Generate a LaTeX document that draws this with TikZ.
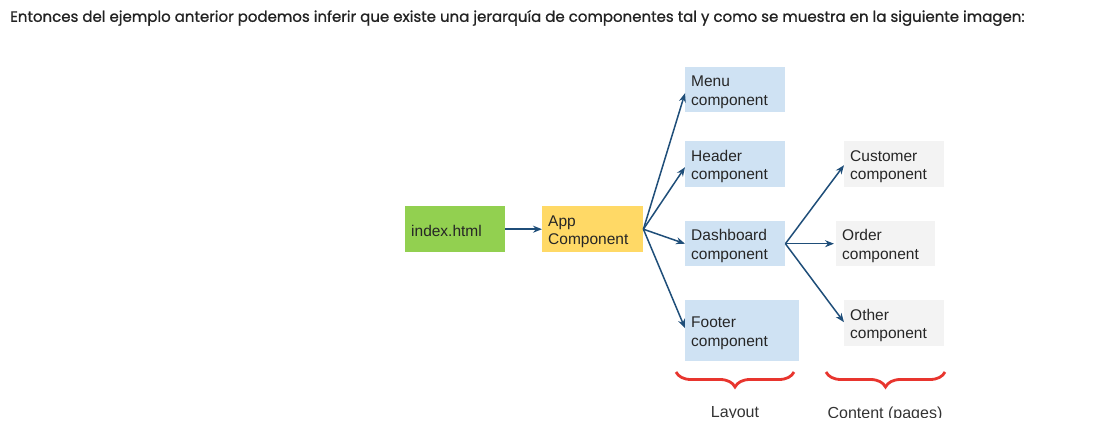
\documentclass[tikz,border=0pt]{standalone}
\usepackage{fontspec}
\setmainfont{Liberation Sans}
\newfontfamily\titlefont{Poppins}[FakeBold=0.9]
\usetikzlibrary{decorations.pathreplacing,arrows.meta}
\definecolor{gbox}{HTML}{92D050}
\definecolor{ybox}{HTML}{FFD966}
\definecolor{bbox}{HTML}{CFE2F3}
\definecolor{pbox}{HTML}{F3F3F3}
\definecolor{arrc}{HTML}{1F4E79}
\definecolor{bracec}{HTML}{E8352E}
\definecolor{titlec}{HTML}{222222}
\begin{document}
\begin{tikzpicture}[x=1pt,y=-1pt,
  box/.style={anchor=north west, inner xsep=6pt, inner ysep=0pt, align=left,
    font=\fontsize{15.5}{18.5}\selectfont, text=black!85,
    execute at begin node={\rule{0pt}{15.5pt}}},
  arr/.style={draw=arrc, line width=1.5pt, -{Stealth[length=9pt,width=7pt]}},
  brc/.style={draw=bracec, line width=2.8pt, decorate,
    decoration={brace, amplitude=15pt, aspect=0.5}},
  lbl/.style={font=\fontsize{16}{19}\selectfont, text=black!80}
]
\useasboundingbox (0,0) rectangle (1117,437);
\node[anchor=west, inner sep=0pt, font=\titlefont\fontsize{15}{17}\selectfont, text=titlec] (title) at (10,18)
  {Entonces del ejemplo anterior podemos inferir que existe una jerarquía de componentes tal y como se muestra en la siguiente imagen:};

\node[box, fill=gbox, text width=88pt, minimum height=46pt] (index) at (405,206) {index.html};
\node[box, fill=ybox, text width=89pt, minimum height=46pt] (app) at (542,206) {App\\Component};
\node[box, fill=bbox, text width=88pt, minimum height=45pt] (menu) at (685,67) {Menu\\component};
\node[box, fill=bbox, text width=88pt, minimum height=46pt] (header) at (685,141) {Header\\component};
\node[box, fill=bbox, text width=88pt, minimum height=45pt] (dash) at (685,221) {Dashboard\\component};
\node[box, fill=bbox, text width=102pt, minimum height=61pt] (footer) at (685,300) {Footer\\component};
\node[box, fill=pbox, text width=88pt, minimum height=46pt] (cust) at (844,141) {Customer\\component};
\node[box, fill=pbox, text width=87pt, minimum height=45pt] (order) at (836,221) {Order\\component};
\node[box, fill=pbox, text width=88pt, minimum height=46pt] (other) at (844,300) {Other\\component};

\draw[arr] (index.east) -- (app.west);
\draw[arr] (app.east) -- ([yshift=-3.5pt]menu.west);
\draw[arr] (app.east) -- ([yshift=-3pt]header.west);
\draw[arr] (app.east) -- (dash.west);
\draw[arr] (app.east) -- ([yshift=2.5pt]footer.west);
\draw[arr] (dash.east) -- ([yshift=-1pt]cust.west);
\draw[arr, shorten >=2pt] (dash.east) -- (order.west);
\draw[arr] (dash.east) -- ([yshift=1pt]other.west);

\coordinate (b1r) at (794,372);
\coordinate (b1l) at (676,372);
\coordinate (b2r) at (945,372);
\coordinate (b2l) at (826,372);
\draw[brc] (b1r) -- (b1l);
\draw[brc] (b2r) -- (b2l);

\begin{scope}
\clip (600,395) rectangle (1000,417);
\node[lbl] (layout) at (735,414) {Layout};
\node[lbl] (content) at (885,414) {Content (pages)};
\end{scope}
\end{tikzpicture}
\end{document}
